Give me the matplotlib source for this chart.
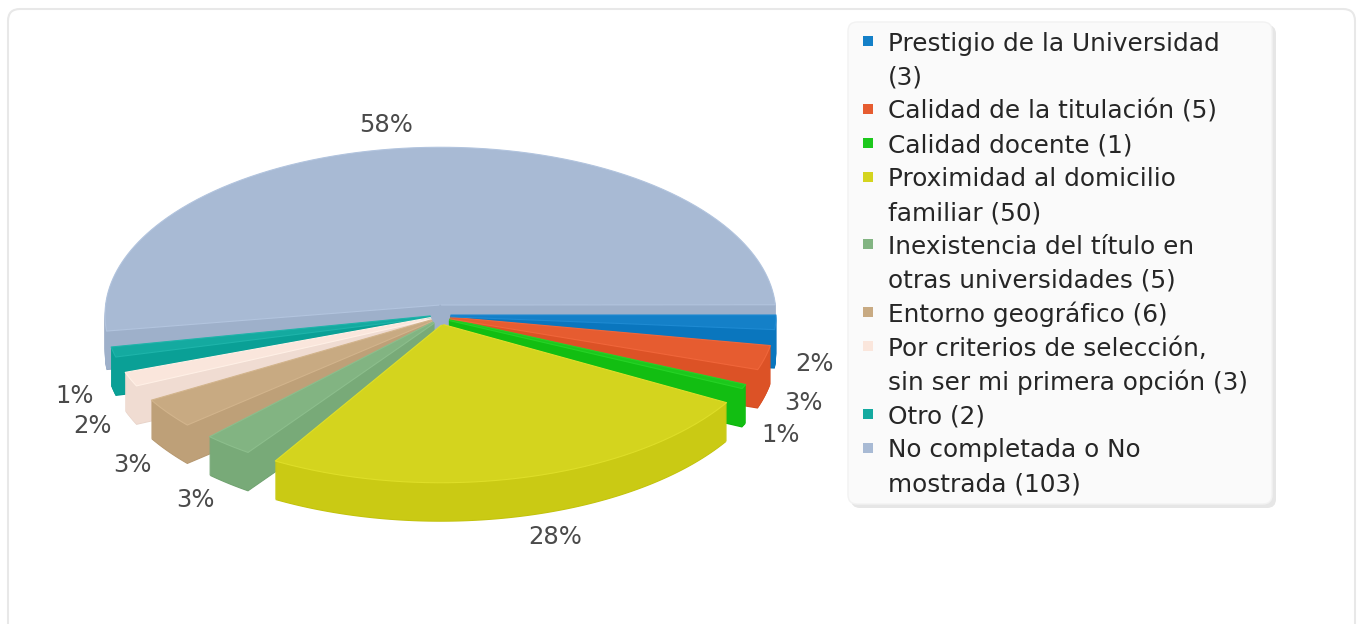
import numpy as np
import matplotlib
matplotlib.use("Agg")
import matplotlib.pyplot as plt
from matplotlib.patches import FancyBboxPatch, Rectangle, Polygon

# datos de la encuesta
labels = [
    "Prestigio de la Universidad\n(3)",
    "Calidad de la titulación (5)",
    "Calidad docente (1)",
    "Proximidad al domicilio\nfamiliar (50)",
    "Inexistencia del título en\notras universidades (5)",
    "Entorno geográfico (6)",
    "Por criterios de selección,\nsin ser mi primera opción (3)",
    "Otro (2)",
    "No completada o No\nmostrada (103)",
]
values = [3, 5, 1, 50, 5, 6, 3, 2, 103]
colors = [
    (20, 128, 200), (230, 92, 48), (28, 200, 28), (212, 212, 30),
    (130, 180, 130), (200, 170, 130), (250, 230, 220), (20, 170, 160),
    (168, 186, 212),
]

# geometria del pastel 3D (pixeles)
cx, cy = 440.5, 315.0
rad = 335.5
skew_h = rad * 0.5
depth = 39
gap_dist = 10.0
gap_angle = 5.0
cdev = 5.0


def rgb(c, f=0):
    return tuple(min(255, max(0, v + f)) / 255 for v in c)


fig = plt.figure(figsize=(13.6, 6.24), dpi=100)
ax = fig.add_axes([0, 0, 1, 1])
ax.set_xlim(0, 1360)
ax.set_ylim(624, 0)
ax.axis("off")

# marco
ax.add_patch(FancyBboxPatch((8, 9), 1347, 640, boxstyle="round,pad=0,rounding_size=12",
                            facecolor="white", edgecolor="#e8e8e8", lw=1.5))

total = sum(values)
ratio = (360 - gap_angle * len(values)) / total

tops, text_info = [], []
angle = 0.0
for v in values:
    span = v * ratio
    mid = angle + (span + gap_angle) / 2
    a1 = np.radians(mid - cdev)
    a2 = np.radians(mid + cdev)
    pts = [(cx + np.cos(a1) * gap_dist, cy + np.sin(a1) * gap_dist)]
    ia = angle
    while ia <= angle + span:
        r = np.radians(ia)
        pts.append((cx + np.cos(r) * rad, cy + np.sin(r) * skew_h))
        ia += 0.5
    pts.append((cx + np.cos(a2) * gap_dist, cy + np.sin(a2) * gap_dist))
    tops.append(np.array(pts))
    text_info.append(angle + span / 2)
    angle = ia + gap_angle

# base
for k, p in enumerate(tops):
    q = p + [0, depth]
    ax.add_patch(Polygon(q, closed=True, facecolor=rgb(colors[k], -20), edgecolor="none"))

# capas laterales
for i in range(depth - 1, 0, -1):
    for k, p in enumerate(tops):
        q = p + [0, i]
        ax.add_patch(Polygon(q, closed=True, facecolor=rgb(colors[k], -10),
                             edgecolor=rgb(colors[k], -10), lw=0.3))

# tapas
for k in range(len(tops) - 1, -1, -1):
    p = tops[k]
    ax.add_patch(Polygon(p, closed=True, facecolor=rgb(colors[k]), edgecolor="none"))
    ax.plot(p[:, 0], p[:, 1], color=rgb(colors[k], 10), lw=0.8, solid_capstyle="butt")

# porcentajes
for k, ta in enumerate(text_info):
    pct = "%d%%" % round(values[k] * 100 / total)
    r = np.radians(ta)
    tx = np.cos(r) * (rad + 20) + cx
    if 0 < ta < 180:
        ty = np.sin(r) * (skew_h + 20) + cy + depth + 8
    else:
        ty = np.sin(r) * (skew_h + 8) + cy - 8
    ha = "right" if 90 < ta < 270 else "left"
    ax.text(tx, ty, pct, ha=ha, va="baseline", fontsize=17.5, color="#4a4a4a",
            family="DejaVu Sans")

# leyenda
ax.add_patch(FancyBboxPatch((851, 25), 425, 483, boxstyle="round,pad=0,rounding_size=9",
                            facecolor="#e6e6e6", edgecolor="none"))
ax.add_patch(FancyBboxPatch((848, 22), 424, 482, boxstyle="round,pad=0,rounding_size=9",
                            facecolor="#fafafa", edgecolor="#f2f2f2", lw=1))
line_h = 33.9
y = 41
for k, lab in enumerate(labels):
    ax.add_patch(Rectangle((863, y - 5), 10, 10, facecolor=rgb(colors[k]), edgecolor="none"))
    for ln in lab.split("\n"):
        ax.text(888, y, ln, ha="left", va="center_baseline", fontsize=17.8,
                color="#262626", family="DejaVu Sans")
        y += line_h

fig.savefig("out.png", dpi=100)
